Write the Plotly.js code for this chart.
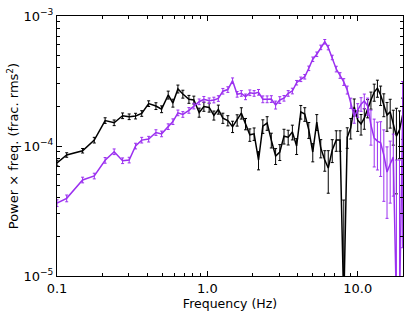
<!DOCTYPE html>
<html>
<head>
<meta charset="utf-8">
<script src="https://cdn.plot.ly/plotly-3.0.1.min.js"></script>
<style>html,body{margin:0;padding:0;background:#fff;}#chart{width:411px;height:318px;}</style>
</head>
<body>
<div id="chart"></div>
<script>
// Frequency bins (Hz), shared by both series
var freq = [0.100,0.116,0.148,0.177,0.209,0.240,0.273,0.302,0.333,0.366,0.407,
  0.455,0.496,0.549,0.590,0.637,0.687,0.754,0.813,0.882,0.948,1.028,1.105,1.183,1.268,1.368,1.471,1.578,
  1.682,1.794,1.916,2.046,2.189,2.338,2.497,2.662,2.844,3.032,3.233,3.448,3.676,3.922,4.181,4.444,4.725,5.023,5.340,5.678,6.036,
  6.368,6.770,7.196,7.627,8.072,8.516,8.984,9.478,10.00,10.52,11.06,11.64,12.24,12.87,13.52,14.20,14.91,15.66,16.44,17.24,18.08,18.96,19.88];

// Power x frequency, black series
var blackPow = [7.40e-5,8.53e-5,9.20e-5,1.11e-4,1.57e-4,1.51e-4,1.71e-4,1.68e-4,1.70e-4,1.78e-4,2.12e-4,
  2.03e-4,1.92e-4,2.47e-4,2.14e-4,2.75e-4,2.51e-4,2.29e-4,2.26e-4,1.81e-4,2.01e-4,1.98e-4,1.72e-4,1.91e-4,1.64e-4,1.57e-4,1.41e-4,1.58e-4,
  1.79e-4,1.48e-4,1.22e-4,1.24e-4,7.80e-5,1.42e-4,1.50e-4,1.11e-4,8.38e-5,8.99e-5,1.19e-4,1.17e-4,1.28e-4,1.00e-4,1.83e-4,1.76e-4,1.33e-4,8.99e-5,1.53e-4,9.65e-5,7.80e-5,
  6.77e-5,9.32e-5,1.11e-4,1.11e-4,6.0e-6,1.17e-4,1.38e-4,2.00e-4,1.58e-4,1.48e-4,1.64e-4,1.96e-4,2.26e-4,2.60e-4,2.79e-4,2.47e-4,2.10e-4,1.73e-4,1.83e-4,1.45e-4,1.19e-4,1.33e-4,1.73e-4];
// relative 1-sigma errors, black series
var blackErr = [0.05,0.04,0.04,0.05,0.05,0.05,0.05,0.05,0.05,0.05,0.05,
  0.06,0.06,0.07,0.07,0.07,0.07,0.07,0.07,0.08,0.08,0.08,0.08,0.08,0.09,0.09,0.10,0.10,
  0.10,0.10,0.11,0.11,0.16,0.12,0.12,0.13,0.14,0.14,0.13,0.13,0.13,0.14,0.12,0.12,0.14,0.16,0.14,0.16,0.18,
  0.36,0.20,0.18,0.18,5.4,0.18,0.18,0.15,0.18,0.18,0.18,0.16,0.15,0.15,0.15,0.17,0.20,0.25,0.25,0.30,0.64,0.40,0.35];

// Power x frequency, purple series
var purplePow = [3.64e-5,3.96e-5,5.48e-5,5.88e-5,7.76e-5,9.04e-5,7.71e-5,7.80e-5,1.00e-4,1.11e-4,1.13e-4,
  1.27e-4,1.24e-4,1.41e-4,1.54e-4,1.80e-4,1.75e-4,1.88e-4,2.03e-4,2.19e-4,2.29e-4,2.23e-4,2.26e-4,2.32e-4,2.64e-4,2.72e-4,3.18e-4,2.50e-4,
  2.54e-4,2.39e-4,2.57e-4,2.54e-4,2.59e-4,2.29e-4,2.29e-4,2.30e-4,2.07e-4,2.26e-4,2.33e-4,2.54e-4,2.65e-4,3.07e-4,3.26e-4,3.41e-4,3.96e-4,4.65e-4,5.08e-4,5.74e-4,6.34e-4,
  5.72e-4,4.80e-4,3.91e-4,3.49e-4,3.11e-4,2.70e-4,2.14e-4,1.70e-4,1.89e-4,2.10e-4,2.22e-4,2.03e-4,1.45e-4,1.15e-4,1.09e-4,1.06e-4,8.53e-5,6.31e-5,7.27e-5,8.23e-5,6.0e-6,6.0e-6,1.65e-4];
var purpleErr = [0.06,0.06,0.05,0.05,0.05,0.05,0.05,0.05,0.05,0.05,0.05,
  0.05,0.05,0.05,0.05,0.05,0.05,0.05,0.05,0.05,0.05,0.05,0.05,0.05,0.05,0.05,0.05,0.05,
  0.05,0.05,0.05,0.05,0.05,0.06,0.06,0.06,0.07,0.06,0.05,0.05,0.05,0.04,0.04,0.04,0.04,0.04,0.04,0.04,0.04,
  0.04,0.04,0.05,0.05,0.06,0.07,0.09,0.12,0.12,0.12,0.13,0.15,0.30,0.40,0.40,0.45,0.56,0.56,0.50,0.50,12,12,0.9];

var xTickVals = [0.1, 1, 10];
var xTickText = ['0.1', '1.0', '10.0'];
var xMinorVals = [0.2,0.3,0.4,0.5,0.6,0.7,0.8,0.9,2,3,4,5,6,7,8,9,20];
var yTickVals = [1e-5, 1e-4, 1e-3];
var yTickText = ['10<sup>\u22125</sup>', '10<sup>\u22124</sup>', '10<sup>\u22123</sup>'];
var yMinorVals = [2e-5,3e-5,4e-5,5e-5,6e-5,7e-5,8e-5,9e-5,2e-4,3e-4,4e-4,5e-4,6e-4,7e-4,8e-4,9e-4];

function errs(vals, rel) {
  return {
    plus: vals.map(function (v, i) { return v * rel[i]; }),
    minus: vals.map(function (v, i) { return v * rel[i]; })
  };
}
var be = errs(blackPow, blackErr);
var pe = errs(purplePow, purpleErr);

var FONT = 'DejaVu Sans, sans-serif';
var PURPLE = '#9b30f0';

var traces = [
  {
    x: freq, y: blackPow, type: 'scatter', mode: 'lines',
    line: {color: 'black', width: 1.5},
    error_y: {type: 'data', symmetric: false, array: be.plus, arrayminus: be.minus,
      color: 'black', thickness: 1, width: 1.5},
    showlegend: false, hoverinfo: 'skip'
  },
  {
    x: freq, y: purplePow, type: 'scatter', mode: 'lines',
    line: {color: PURPLE, width: 1.5},
    error_y: {type: 'data', symmetric: false, array: pe.plus, arrayminus: pe.minus,
      color: PURPLE, thickness: 1, width: 1.5},
    showlegend: false, hoverinfo: 'skip'
  }
];

var axisCommon = {
  type: 'log', showgrid: false, zeroline: false,
  showline: true, linecolor: 'black', linewidth: 1, mirror: 'allticks',
  ticks: 'inside', ticklen: 5, tickwidth: 1, tickcolor: 'black',
  tickmode: 'array',
  tickfont: {family: FONT, size: 13, color: 'black'}
};

var layout = {
  width: 411, height: 318,
  margin: {l: 57, r: 8, t: 16, b: 42},
  paper_bgcolor: 'white', plot_bgcolor: 'white',
  xaxis: Object.assign({}, axisCommon, {
    range: [-1, Math.log10(20)],
    tickvals: xTickVals, ticktext: xTickText,
    minor: {ticks: 'inside', ticklen: 3, tickwidth: 1, tickcolor: 'black', tickmode: 'array', tickvals: xMinorVals},
    title: {text: 'Frequency (Hz)', font: {family: FONT, size: 12.5, color: 'black'}, standoff: 2}
  }),
  yaxis: Object.assign({}, axisCommon, {
    range: [-5, -3],
    tickvals: yTickVals, ticktext: yTickText,
    minor: {ticks: 'inside', ticklen: 3, tickwidth: 1, tickcolor: 'black', tickmode: 'array', tickvals: yMinorVals},
    title: {text: 'Power \u00d7 freq. (frac. rms<sup>2</sup>)', font: {family: FONT, size: 13, color: 'black'}, standoff: 1}
  })
};

Plotly.newPlot('chart', traces, layout, {staticPlot: true, displayModeBar: false});
</script>
</body>
</html>
